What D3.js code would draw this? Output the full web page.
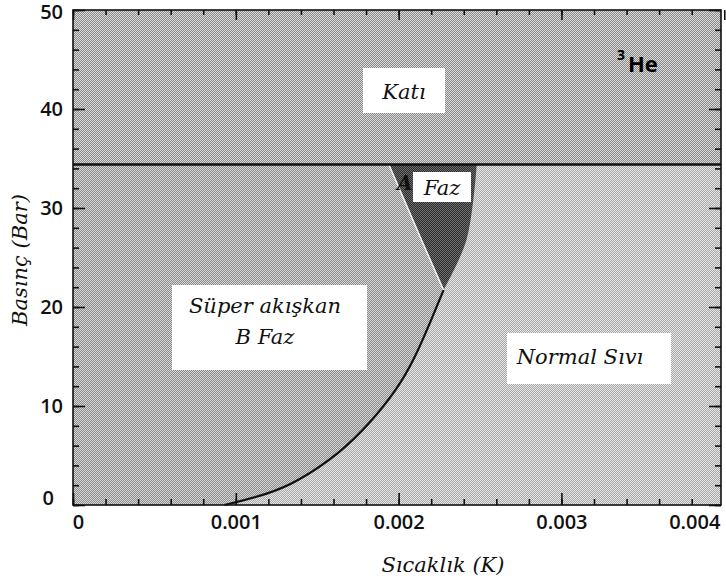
<!DOCTYPE html>
<html>
<head>
<meta charset="utf-8">
<script src="https://cdn.jsdelivr.net/npm/d3@7"></script>
<style>
  body { margin: 0; background: #fff; }
  .tick text { font-family: "Open Sans", sans-serif; font-weight: 600; font-size: 20px; fill: #111; }
  .lbl { font-family: "DejaVu Serif", serif; font-style: italic; fill: #111; }
</style>
</head>
<body>
<script>
// axis ranges and ticks
var tDomain = [0, 0.00398]
var pDomain = [0, 50]
var tTicks = [0, 0.001, 0.002, 0.003, 0.004]
var pTicks = [0, 10, 20, 30, 40, 50]

// melting curve pressure (bar)
var meltP = 34.4
// normal -> superfluid transition, below polycritical point [T (K), P (bar)]
var tcLower = [[0.00093, 0], [0.00118, 1.1], [0.00139, 2.6], [0.00163, 5.3], [0.00182, 8.3],
               [0.00198, 11.6], [0.0021, 15], [0.0022, 18.7], [0.002276, 21.7]]
// normal -> A phase, above polycritical point
var tcUpper = [[0.002276, 21.7], [0.002417, 26.8], [0.00248, meltP]]
// A -> B boundary
var abLine = [[0.002276, 21.7], [0.00214, 26.8], [0.00194, meltP]]

var W = 726, H = 581
var margin = {top: 10, right: 5, bottom: 76, left: 73}
var width = W - margin.left - margin.right,
    height = H - margin.top - margin.bottom

var svg = d3.select("body").append("svg")
  .attr("width", W).attr("height", H)

// dither-like patterns
var defs = svg.append("defs")
function dither(id, a, b) {
  var p = defs.append("pattern").attr("id", id)
    .attr("patternUnits", "userSpaceOnUse").attr("width", 2).attr("height", 2)
  p.append("rect").attr("width", 2).attr("height", 2).attr("fill", a)
  p.append("rect").attr("width", 1).attr("height", 1).attr("fill", b)
  p.append("rect").attr("x", 1).attr("y", 1).attr("width", 1).attr("height", 1).attr("fill", b)
}
dither("solid", "#dadada", "#8a8a8a")
dither("bphase", "#d6d6d6", "#8c8c8c")
dither("normal", "#e6e6e6", "#a8a8a8")
dither("aphase", "#6e6e6e", "#2e2e2e")

var g = svg.append("g").attr("transform", "translate(" + margin.left + "," + margin.top + ")")

var x = d3.scaleLinear().domain(tDomain).range([0, width])
var y = d3.scaleLinear().domain(pDomain).range([height, 0])

var curve = d3.line().x(function(d) { return x(d[0]) }).y(function(d) { return y(d[1]) })
  .curve(d3.curveCatmullRom)
var smooth = d3.line().x(function(d) { return x(d[0]) }).y(function(d) { return y(d[1]) })
  .curve(d3.curveNatural)
function seg(gen, pts) { return gen(pts).replace(/^M/, "L") }
function pt(d) { return x(d[0]) + "," + y(d[1]) }

// regions
g.append("rect").attr("width", width).attr("height", height).attr("fill", "url(#normal)")
g.append("rect").attr("width", width).attr("height", y(meltP)).attr("fill", "url(#solid)")

var bPath = "M" + pt([0, 0]) + "L" + pt(tcLower[0]) + seg(smooth, tcLower) +
  seg(curve, abLine) + "L" + pt([0, meltP]) + "Z"
g.append("path").attr("d", bPath).attr("fill", "url(#bphase)")

var aPath = "M" + pt(tcUpper[0]) + seg(curve, tcUpper) + "L" + pt(abLine[2]) +
  seg(curve, abLine.slice().reverse()) + "Z"
g.append("path").attr("d", aPath).attr("fill", "url(#aphase)")

// lines
g.append("path").attr("d", curve(abLine)).attr("fill", "none")
  .attr("stroke", "#f4f4f4").attr("stroke-width", 1.5)
g.append("path").attr("d", smooth(tcLower)).attr("fill", "none")
  .attr("stroke", "#111").attr("stroke-width", 2.2)
g.append("line").attr("x1", 0).attr("x2", width).attr("y1", y(meltP)).attr("y2", y(meltP))
  .attr("stroke", "#111").attr("stroke-width", 2.5)

// axes: ticks inward
var tMinor = d3.range(0, 0.00399, 0.0002), pMinor = d3.range(0, 50.1, 2)
function addAxis(gen, tr, vals, size, fmt, cls) {
  var a = g.append("g").attr("class", cls).attr("transform", tr)
    .call(gen.tickValues(vals).tickSize(size).tickSizeOuter(0).tickFormat(fmt).tickPadding(10))
  a.select(".domain").remove()
  a.selectAll(".tick line").attr("stroke", "#111").attr("stroke-width", 1.6)
  return a
}
addAxis(d3.axisBottom(x), "translate(0," + height + ")", tMinor, -6, "", "m")
addAxis(d3.axisTop(x), "", tMinor, -5, "", "m")
addAxis(d3.axisLeft(y), "", pMinor, -6, "", "m")
addAxis(d3.axisRight(y), "translate(" + width + ",0)", pMinor, -6, "", "m")

var xa = addAxis(d3.axisBottom(x), "translate(0," + height + ")", tTicks, -12, d3.format(".3~f"), "xa")
xa.selectAll(".tick").filter(function(d) { return d === 0.004 }).select("line").remove()
xa.selectAll(".tick text").attr("dx", function(d) { return d === 0 ? 5 : d === 0.004 ? -30 : 0 })
addAxis(d3.axisTop(x), "", tTicks, -10, "", "m")
var ya = addAxis(d3.axisLeft(y), "", pTicks, -12, d3.format("d"), "ya")
ya.selectAll(".tick text").attr("dx", function(d) { return d === 0 ? -9 : 0 })
  .attr("dy", function(d) { return d === 0 ? "-0.05em" : d === 50 ? "0.4em" : "0.32em" })
addAxis(d3.axisRight(y), "translate(" + width + ",0)", pTicks, -12, "", "m")

g.append("rect").attr("width", width).attr("height", height)
  .attr("fill", "none").attr("stroke", "#111").attr("stroke-width", 1.6)

// labels
function box(x0, y0, w, h) {
  g.append("rect").attr("x", x0 - margin.left).attr("y", y0 - margin.top)
    .attr("width", w).attr("height", h).attr("fill", "#fff")
}
function label(txt, cx, by, size) {
  g.append("text").attr("class", "lbl").attr("x", cx - margin.left).attr("y", by - margin.top)
    .attr("text-anchor", "middle").attr("font-size", size).text(txt)
}
box(363, 68, 82, 45); label("Katı", 404, 99, 21)
g.append("text").attr("class", "lbl").attr("x", 397 - margin.left).attr("y", 190 - margin.top)
  .attr("font-size", 20).attr("font-weight", "bold").text("A")
box(413, 172, 58, 30); label("Faz", 442, 195, 21)
box(172, 285, 195, 85); label("Süper akışkan", 265, 313, 21); label("B Faz", 265, 344, 21)
box(507, 333, 164, 51); label("Normal Sıvı", 580, 364, 21)

svg.append("text").attr("x", 617).attr("y", 60)
  .style("font-family", "Open Sans, sans-serif").style("font-weight", 700).style("font-size", "14px").text("3")
svg.append("text").attr("x", 628).attr("y", 72)
  .style("font-family", "Open Sans, sans-serif").style("font-weight", 700).style("font-size", "22px").text("He")

svg.append("text").attr("class", "lbl").attr("x", 443).attr("y", 572)
  .attr("text-anchor", "middle").attr("font-size", 21).text("Sıcaklık (K)")
svg.append("text").attr("class", "lbl").attr("transform", "translate(27,260) rotate(-90)")
  .attr("text-anchor", "middle").attr("font-size", 21).text("Basınç (Bar)")
</script>
</body>
</html>
